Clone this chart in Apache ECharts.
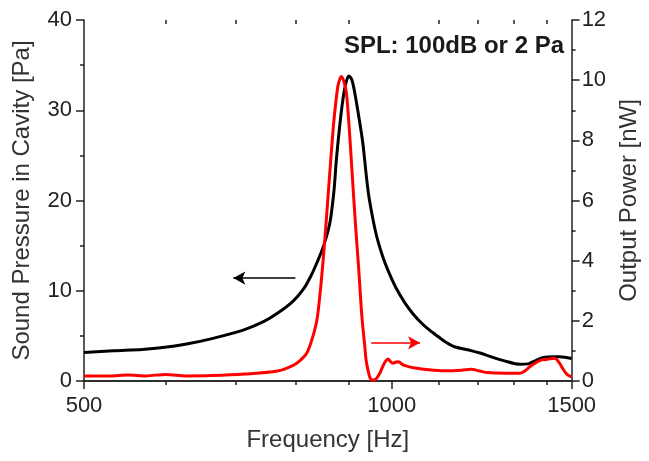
<!DOCTYPE html>
<html><head><meta charset="utf-8">
<script src="https://cdn.jsdelivr.net/npm/echarts@6/dist/echarts.min.js"></script>
<style>html,body{margin:0;padding:0;background:#fff}#c{width:649px;height:461px}</style>
</head><body><div id="c"></div>
<script>
// Frequency [Hz] / Sound pressure in cavity [Pa] (left axis)
const freqBlack = [500,534,570,597,630,667,718,750,773,800,820,835,845,858,870,878,883,890,896,902,908,914,920,928,937,945,951,965,980,994,1010,1031,1050,1070,1090,1111,1130,1152,1196,1223,1250,1287,1336,1360,1376,1407,1440,1460,1500];
const pressure  = [3.15,3.35,3.5,3.7,4.1,4.7,5.7,6.6,7.5,8.8,10.2,11.8,13.1,15.0,17.5,21,24.6,28.5,31.2,33.0,33.8,33.4,32.0,29.5,26.4,22.5,20.1,16.4,13.8,12.0,10.3,8.6,7.4,6.4,5.6,4.9,4.3,3.8,3.37,3.07,2.7,2.26,1.85,1.9,2.15,2.6,2.7,2.7,2.5];
// Frequency [Hz] / Output power [nW] (right axis)
const freqRed = [500,530,552,575,601,630,667,718,773,802,815,826,836,845,851,857,862,867,872,877,882,886,890,893,898,903,908,913,918,923,929,934,937,941,944,948,953,958,964,969,975,980,986,992,997,1003,1010,1016,1023,1031,1050,1070,1100,1135,1170,1196,1220,1240,1290,1336,1352,1366,1396,1420,1444,1452,1460,1470,1481,1490,1500];
const power   = [0.17,0.17,0.2,0.17,0.22,0.17,0.18,0.23,0.33,0.53,0.7,0.93,1.4,2.03,2.9,4.03,5.1,6.26,7.4,8.48,9.3,9.81,10.05,10.12,9.95,9.59,8.6,7.37,6.1,4.92,3.6,2.37,1.81,1.2,0.7,0.37,0.08,0.03,0.05,0.14,0.3,0.48,0.65,0.73,0.65,0.59,0.63,0.64,0.56,0.51,0.44,0.4,0.36,0.34,0.36,0.39,0.33,0.28,0.26,0.26,0.35,0.48,0.68,0.72,0.76,0.7,0.59,0.42,0.26,0.18,0.14];
// Ticks
const xMajorTicks = [500,1000,1500];
const xMinorTicks = [600,700,800,900,1100,1200,1300,1400];
const titleText = 'SPL: 100dB or 2 Pa';
// Annotation arrows (data coordinates)
const leftArrow = [[805,11.4],[700,11.4]];
const rightArrow = [[955,1.27],[1066,1.27]];

const FONT = '"Liberation Sans", Arial, sans-serif';
const AX = '#222';
const black = '#000', red = '#ff0000';
const blackPairs = freqBlack.map((f,i)=>[f,pressure[i]]);
const redPairs = freqRed.map((f,i)=>[f,power[i]]);

const gridBox = {left:84, right:71, top:20, bottom:80, containLabel:false};
const baseX = {type:'log', logBase:10, min:500, max:1500, splitLine:{show:false}};
const tickLine = {color:AX, width:1.5};
const chart = echarts.init(document.getElementById('c'), null, {renderer:'canvas'});
chart.setOption({
  animation:false,
  backgroundColor:'#fff',
  grid:[Object.assign({}, gridBox), Object.assign({}, gridBox)],
  title:{text:titleText, right:80, top:29, textStyle:{fontFamily:FONT, fontWeight:'bold', fontSize:24, color:'#1a1a1a'}},
  xAxis:[
    Object.assign({}, baseX, {gridIndex:0, position:'bottom', name:'Frequency [Hz]', nameLocation:'middle', nameGap:47,
      nameTextStyle:{fontFamily:FONT, fontSize:24, color:'#333'},
      axisLine:{show:true, lineStyle:tickLine},
      axisTick:{show:true, inside:false, length:8, customValues:xMajorTicks, lineStyle:tickLine},
      axisLabel:{show:true, customValues:xMajorTicks, margin:14, fontFamily:FONT, fontSize:22, color:'#222', formatter:v=>String(Math.round(v))}}),
    Object.assign({}, baseX, {gridIndex:0, position:'top', axisLine:{show:true, lineStyle:tickLine},
      axisTick:{show:true, inside:true, length:7, customValues:xMajorTicks, lineStyle:tickLine},
      axisLabel:{show:false}}),
    Object.assign({}, baseX, {gridIndex:1, position:'bottom', axisLine:{show:false},
      axisTick:{show:true, inside:false, length:4, customValues:xMinorTicks, lineStyle:tickLine},
      axisLabel:{show:false}}),
    Object.assign({}, baseX, {gridIndex:1, position:'top', axisLine:{show:false},
      axisTick:{show:true, inside:true, length:4, customValues:xMinorTicks, lineStyle:tickLine},
      axisLabel:{show:false}})
  ],
  yAxis:[
    {gridIndex:0, type:'value', position:'left', min:0, max:40, interval:10, name:'Sound Pressure in Cavity [Pa]', nameLocation:'middle', nameGap:50,
      nameTextStyle:{fontFamily:FONT, fontSize:24, color:'#333'},
      axisLine:{show:true, lineStyle:tickLine},
      axisTick:{show:true, inside:false, length:8, lineStyle:tickLine},
      minorTick:{show:true, splitNumber:2, length:4, lineStyle:tickLine},
      axisLabel:{margin:12, fontFamily:FONT, fontSize:22, color:'#222'},
      splitLine:{show:false}},
    {gridIndex:0, type:'value', position:'right', min:0, max:12, interval:2, name:'Output Power [nW]', nameLocation:'middle', nameGap:38,
      nameTextStyle:{fontFamily:FONT, fontSize:24, color:'#333'},
      axisLine:{show:true, lineStyle:tickLine},
      axisTick:{show:true, inside:false, length:8, lineStyle:tickLine},
      minorTick:{show:true, splitNumber:2, length:4, lineStyle:tickLine},
      axisLabel:{margin:10, fontFamily:FONT, fontSize:22, color:'#222'},
      splitLine:{show:false}},
    {gridIndex:1, type:'value', min:0, max:40, show:false}
  ],
  series:[
    {type:'line', name:'pressure', xAxisIndex:0, yAxisIndex:0, data:blackPairs, showSymbol:false, smooth:0.3,
      lineStyle:{color:black, width:3}, itemStyle:{color:black},
      markLine:{silent:true, symbol:['none','arrow'], symbolSize:[10,12], label:{show:false},
        lineStyle:{color:black, width:1.5, type:'solid'}, data:[[{coord:leftArrow[0]},{coord:leftArrow[1]}]]}},
    {type:'line', name:'power', xAxisIndex:0, yAxisIndex:1, data:redPairs, showSymbol:false, smooth:0.3,
      lineStyle:{color:red, width:3}, itemStyle:{color:red},
      markLine:{silent:true, symbol:['none','arrow'], symbolSize:[10,12], label:{show:false},
        lineStyle:{color:red, width:1.5, type:'solid'}, data:[[{coord:rightArrow[0]},{coord:rightArrow[1]}]]}}
  ]
});
</script></body></html>
